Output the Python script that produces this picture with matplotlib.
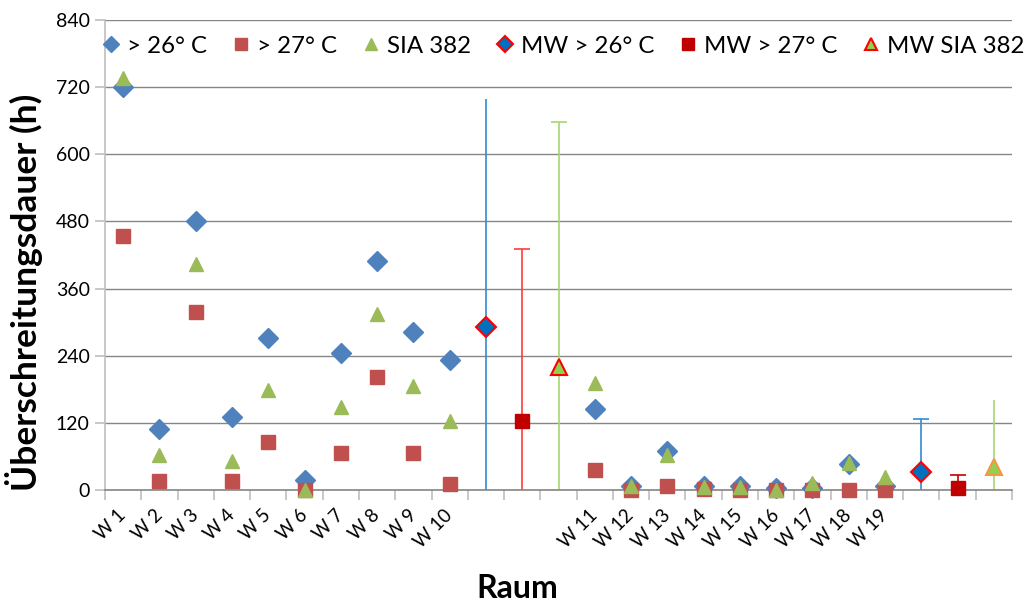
import matplotlib
matplotlib.use("Agg")
import matplotlib.pyplot as plt
import numpy as np

plt.rcParams['font.family'] = ['Lato', 'DejaVu Sans']

# ---- data ----
rooms_a = ["W 1", "W 2", "W 3", "W 4", "W 5", "W 6", "W 7", "W 8", "W 9", "W 10"]
rooms_b = ["W 11", "W 12", "W 13", "W 14", "W 15", "W 16", "W 17", "W 18", "W 19"]

t26_a = [720, 109, 481, 130, 272, 18, 245, 410, 283, 233]
t27_a = [454, 16, 318, 16, 86, 0, 66, 202, 66, 11]
sia_a = [736, 63, 404, 51, 178, 0, 149, 314, 186, 124]

t26_b = [144, 8, 69, 8, 8, 4, 3, 46, 8]
t27_b = [35, 0, 7, 1, 0, 0, 0, 0, 0]
sia_b = [191, 7, 63, 6, 6, 0, 13, 48, 24]

mw26 = [291, 32]
mw26_err = [407, 95]
mw27 = [123, 4]
mw27_err = [308, 22]
mwsia = [220, 42]
mwsia_err = [437, 119]

yticks = [0, 120, 240, 360, 480, 600, 720, 840]

# ---- category layout ----
labels = rooms_a + ["", "", ""] + rooms_b + ["", "", ""]
n = len(labels)
xa = np.arange(len(rooms_a))
g1 = len(rooms_a)
xb = np.arange(len(rooms_b)) + g1 + 3
g2 = g1 + 3 + len(rooms_b)

fig = plt.figure(figsize=(10.32, 6.01), dpi=100)
ax = fig.add_axes([105/1032, 1-490/601, 907/1032, 470/601])

c26, c27, csia = "#4F81BD", "#C0504D", "#9BBB59"
ms_d, ms_s, ms_t = 9.8, 10.5, 10

xs = np.concatenate([xa, xb])
ax.plot(xs, t26_a + t26_b, ls='none', marker='D', ms=ms_d,
        color=c26, mec=c26, label="> 26° C", zorder=3, clip_on=False)
ax.plot(xs, t27_a + t27_b, ls='none', marker='s', ms=ms_s,
        color=c27, mec=c27, label="> 27° C", zorder=4, clip_on=False)
ax.plot(xs, sia_a + sia_b, ls='none', marker='^', ms=ms_t,
        color=csia, mec=csia, label="SIA 382", zorder=5, clip_on=False)

# mean values with error bars
pos26 = [g1, g2]
pos27 = [g1 + 1, g2 + 1]
possia = [g1 + 2, g2 + 2]

ax.errorbar([pos26[0]], [mw26[0]], yerr=[mw26_err[0]], fmt='none', ecolor="#2F8BD3",
            elinewidth=1.2, capsize=0, zorder=2)
ax.errorbar([pos26[1]], [mw26[1]], yerr=[mw26_err[1]], fmt='none', ecolor="#2F8BD3",
            elinewidth=1.2, capsize=6, capthick=1.2, zorder=2)
ax.errorbar([pos27[0]], [mw27[0]], yerr=[mw27_err[0]], fmt='none', ecolor="#FF3B3B",
            elinewidth=1.2, capsize=6, capthick=1.2, zorder=2)
ax.errorbar([pos27[1]], [mw27[1]], yerr=[mw27_err[1]], fmt='none', ecolor="#C00000",
            elinewidth=1.2, capsize=6, capthick=1.2, zorder=2)
ax.errorbar([possia[0]], [mwsia[0]], yerr=[mwsia_err[0]], fmt='none', ecolor="#A6D86E",
            elinewidth=1.2, capsize=6, capthick=1.2, zorder=2)
ax.errorbar([possia[1]], [mwsia[1]], yerr=[mwsia_err[1]], fmt='none', ecolor="#A6D86E",
            elinewidth=1.2, capsize=0, zorder=2)

ax.plot(pos26, mw26, ls='none', marker='D', ms=ms_d, color="#0070C0", mec="#FF0000",
        mew=1.5, label="MW > 26° C", zorder=6, clip_on=False)
ax.plot(pos27, mw27, ls='none', marker='s', ms=ms_s, color="#C00000", mec="#C00000",
        label="MW > 27° C", zorder=6, clip_on=False)
ax.plot([possia[0]], [mwsia[0]], ls='none', marker='^', ms=ms_t + 1, color="#92D050",
        mec="#FF0000", mew=1.5, label="MW SIA 382", zorder=6, clip_on=False)
ax.plot([possia[1]], [mwsia[1]], ls='none', marker='^', ms=ms_t + 1, color="#92D050",
        mec="#F79646", mew=1.5, zorder=6, clip_on=False)

# axes styling
ax.set_xlim(-0.5, n - 0.5)
ax.set_ylim(0, 840)
ax.set_yticks(yticks)
ax.set_yticklabels([str(v) for v in yticks], fontsize=14)
ax.grid(axis='y', color='#868686', lw=1, zorder=0)
ax.set_axisbelow(True)
ax.set_xticks(np.arange(n))
ax.set_xticklabels(labels, rotation=45, ha='right', va='center', rotation_mode='anchor',
                   fontsize=13.5)
ax.set_xticks(np.arange(n + 1) - 0.5, minor=True)
ax.tick_params(axis='x', which='major', length=0, pad=16)
ax.tick_params(axis='x', which='minor', length=7, color='#BFBFBF', width=1.2)
ax.tick_params(axis='y', length=7, color='#BFBFBF', width=1.2, pad=4)
for s in ['top', 'right']:
    ax.spines[s].set_visible(False)
ax.spines['left'].set_color('#BFBFBF')
ax.spines['left'].set_linewidth(1.2)
ax.spines['bottom'].set_color('#868686')
ax.spines['bottom'].set_linewidth(1.2)

ax.set_ylabel("Überschreitungsdauer (h)", fontsize=25.5, fontweight='bold')
ax.yaxis.set_label_coords(-0.068, 0.42)
ax.set_xlabel("Raum", fontsize=23, fontweight='bold')
ax.xaxis.set_label_coords(0.454, -0.178)

leg = ax.legend(loc='center', bbox_to_anchor=(0.505, 0.944), ncol=6, frameon=False,
                fontsize=17.3, handletextpad=0.27, columnspacing=1.0, markerscale=0.85,
                handlelength=0.8, borderpad=0, borderaxespad=0)

fig.savefig("out.png", dpi=100)
